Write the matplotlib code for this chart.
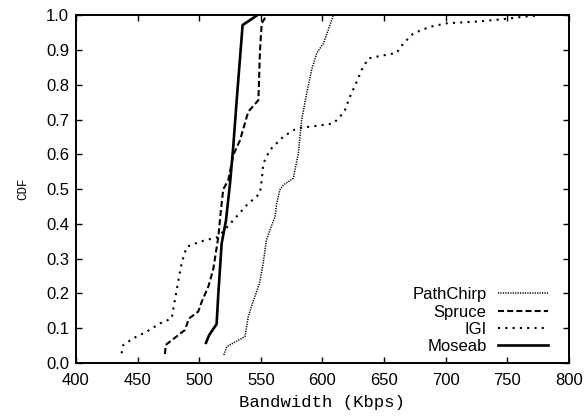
import matplotlib
matplotlib.use("Agg")
from matplotlib import pyplot as plt

# CDF curves (Bandwidth in Kbps, CDF)
pathchirp_x = [520, 522.3, 537.1, 539.8, 543, 549, 552, 554.5, 557.4, 561.5, 562.8, 565.5,
               568.2, 576.3, 580.4, 583.1, 587.2, 591.2, 595.3, 600.7, 604.7, 608.8]
pathchirp_y = [0.023, 0.047, 0.076, 0.133, 0.17, 0.23, 0.29, 0.354, 0.383, 0.421, 0.459, 0.498,
               0.512, 0.531, 0.603, 0.699, 0.776, 0.843, 0.891, 0.919, 0.958, 1.0]

spruce_x = [472.2, 472.8, 488.4, 491.7, 499.2, 502, 507.4, 511.4, 515.5, 517.6, 519.5, 523.6,
            527.6, 533, 539.8, 548, 549.3, 550.7, 554.7]
spruce_y = [0.026, 0.052, 0.095, 0.128, 0.148, 0.176, 0.22, 0.27, 0.363, 0.44, 0.50, 0.526,
            0.598, 0.64, 0.723, 0.756, 0.90, 0.977, 1.0]

igi_x = [437, 438.4, 446.5, 457.3, 468.2, 477.6, 481.7, 485.7, 489.8, 500.6, 515, 525, 538.5,
         549.3, 550.7, 552, 557.4, 568.2, 579, 595, 608.8, 614.2, 618.3, 622.3, 627.8, 631.8,
         637.2, 644, 660.2, 665.6, 673.7, 687.2, 700.8, 725, 746.7, 763, 776.5]
igi_y = [0.028, 0.052, 0.071, 0.09, 0.114, 0.128, 0.21, 0.287, 0.334, 0.349, 0.362, 0.40, 0.454,
         0.488, 0.526, 0.574, 0.613, 0.651, 0.675, 0.682, 0.689, 0.708, 0.728, 0.766, 0.809, 0.843,
         0.876, 0.881, 0.892, 0.919, 0.948, 0.967, 0.977, 0.982, 0.989, 0.996, 1.0]

moseab_x = [505.5, 508, 514.1, 515.5, 518.2, 521.7, 525, 527.6, 530.4, 535.2, 547]
moseab_y = [0.058, 0.08, 0.112, 0.20, 0.344, 0.41, 0.517, 0.622, 0.756, 0.972, 1.0]

x_ticks = [400, 450, 500, 550, 600, 650, 700, 750, 800]
y_ticks = [0.0, 0.1, 0.2, 0.3, 0.4, 0.5, 0.6, 0.7, 0.8, 0.9, 1.0]

plt.rcParams['font.family'] = ['Liberation Sans', 'DejaVu Sans']

fig = plt.figure(figsize=(5.84, 4.16), dpi=100)
ax = fig.add_axes([0.1301, 0.1274, 0.8442, 0.8358])

ax.plot(pathchirp_x, pathchirp_y, color='black', lw=1.1, dashes=(0.8, 0.8),
        dash_capstyle='butt', label='PathChirp')
ax.plot(spruce_x, spruce_y, color='black', lw=1.5, dashes=(2.9, 1.5),
        dash_capstyle='butt', label='Spruce')
ax.plot(igi_x, igi_y, color='black', lw=1.5, dashes=(1.0, 2.5),
        dash_capstyle='butt', label='IGI')
ax.plot(moseab_x, moseab_y, color='black', lw=1.9, label='Moseab')

ax.set_xlim(400, 800)
ax.set_ylim(0, 1)
ax.set_xticks(x_ticks)
ax.set_yticks(y_ticks)
ax.set_xticklabels([str(v) for v in x_ticks])
ax.set_yticklabels([f'{v:.1f}' for v in y_ticks])
ax.tick_params(direction='in', length=4.5, width=1.0, top=True, right=True, labelsize=12)
ax.tick_params(axis='x', pad=7)
ax.tick_params(axis='y', pad=5)
for s in ax.spines.values():
    s.set_linewidth(1.4)

ax.set_xlabel('Bandwidth (Kbps)', family='Liberation Mono', fontsize=12.4, labelpad=5)
ax.set_ylabel('CDF', family='Liberation Mono', fontsize=9, labelpad=12)

leg = ax.legend(loc='lower right', bbox_to_anchor=(0.958, 0.025), frameon=False,
                markerfirst=False, fontsize=12, handlelength=3.0, handletextpad=0.7,
                labelspacing=0.14, borderpad=0, borderaxespad=0)

fig.savefig('out.png', dpi=100)
